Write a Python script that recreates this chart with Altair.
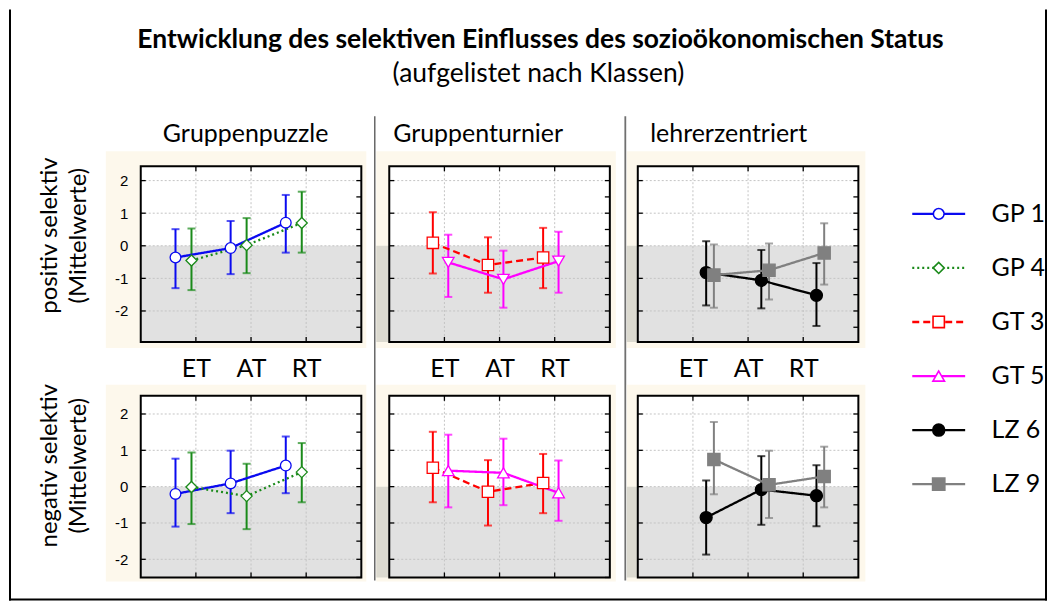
import altair as alt
import pandas as pd

# ---------------- texts ----------------
TITLE = "Entwicklung des selektiven Einflusses des sozioökonomischen Status"
SUBTITLE = "(aufgelistet nach Klassen)"
groups = ["Gruppenpuzzle", "Gruppenturnier", "lehrerzentriert"]
row_labels = [["positiv selektiv", "(Mittelwerte)"], ["negativ selektiv", "(Mittelwerte)"]]
rows = ["positiv", "negativ"]

# ---------------- categories ----------------
stages = ["ET", "AT", "RT"]
series = ["GP 1", "GP 4", "GT 3", "GT 5", "LZ 6", "LZ 9"]
group_series = [["GP 1", "GP 4"], ["GT 3", "GT 5"], ["LZ 6", "LZ 9"]]
y_ticks = [-2, -1, 0, 1, 2]
y_minor = [-2.5, -2, -1.5, -1, -0.5, 0, 0.5, 1, 1.5, 2]
x_ticks = [1, 2, 3]

# ---------------- values: positiv selektiv ----------------
pos_mean = {"GP 1": [-0.36, -0.07, 0.71], "GP 4": [-0.45, 0.02, 0.70],
            "GT 3": [0.09, -0.59, -0.36], "GT 5": [-0.51, -1.03, -0.47],
            "LZ 6": [-0.82, -1.06, -1.52], "LZ 9": [-0.90, -0.75, -0.22]}
pos_lo = {"GP 1": [-1.30, -0.87, -0.21], "GP 4": [-1.36, -0.84, -0.21],
          "GT 3": [-0.85, -1.44, -1.30], "GT 5": [-1.57, -1.90, -1.44],
          "LZ 6": [-1.83, -1.92, -2.46], "LZ 9": [-1.90, -1.65, -1.19]}
pos_hi = {"GP 1": [0.51, 0.76, 1.56], "GP 4": [0.53, 0.85, 1.66],
          "GT 3": [1.03, 0.26, 0.55], "GT 5": [0.34, -0.15, 0.43],
          "LZ 6": [0.14, -0.13, -0.53], "LZ 9": [0.04, 0.07, 0.69]}

# ---------------- values: negativ selektiv ----------------
neg_mean = {"GP 1": [-0.20, 0.09, 0.58], "GP 4": [-0.01, -0.26, 0.40],
            "GT 3": [0.52, -0.14, 0.10], "GT 5": [0.44, 0.38, -0.17],
            "LZ 6": [-0.85, -0.08, -0.25], "LZ 9": [0.75, 0.05, 0.28]}
neg_lo = {"GP 1": [-1.10, -0.73, -0.18], "GP 4": [-1.03, -1.17, -0.43],
          "GT 3": [-0.43, -1.07, -0.73], "GT 5": [-0.57, -0.51, -0.94],
          "LZ 6": [-1.87, -1.05, -1.09], "LZ 9": [-0.21, -0.86, -0.57]}
neg_hi = {"GP 1": [0.77, 0.99, 1.38], "GP 4": [0.94, 0.63, 1.20],
          "GT 3": [1.51, 0.73, 0.90], "GT 5": [1.43, 1.32, 0.72],
          "LZ 6": [0.17, 0.84, 0.59], "LZ 9": [1.78, 0.99, 1.10]}

# ---------------- styles ----------------
dodge = {"GP 1": -0.37, "GP 4": -0.08, "GT 3": -0.21, "GT 5": 0.07, "LZ 6": 0.24, "LZ 9": 0.38}
colors = ["#0a0af0", "#1a8a1a", "#ff0000", "#ff00ff", "#000000", "#808080"]
fills = ["white", "white", "white", "white", "#000000", "#808080"]
dashes = [[1, 0], [2, 3], [7, 4], [1, 0], [1, 0], [1, 0]]
sizes = [115, 150, 85, 110, 110, 80]
shapes_top = {"GP 1": "circle", "GP 4": "diamond", "GT 3": "square", "GT 5": "triangle-down",
              "LZ 6": "circle", "LZ 9": "square"}
shapes_bottom = dict(shapes_top, **{"GT 5": "triangle-up"})

FONT = "Lato"
NUMFONT = "Liberation Sans"
BEIGE = "#fdf8ec"
BAND = "#e1e1e1"
BAND_OUT = "#dcdad0"
GRID = "#c4c4c4"

W = 221
H_TOP, H_BOT = 176, 182
YDOM = {"positiv": [-2.95, 2.44], "negativ": [-2.5, 2.5]}
HEIGHTS = {"positiv": H_TOP, "negativ": H_BOT}

# ---------------- long table ----------------
recs = []
for r, (mm, ll, hh) in zip(rows, [(pos_mean, pos_lo, pos_hi), (neg_mean, neg_lo, neg_hi)]):
    shp = shapes_top if r == "positiv" else shapes_bottom
    for s in series:
        for i, st in enumerate(stages):
            recs.append(dict(row=r, series=s, stage=st, x=i + 1 + dodge[s],
                             mean=mm[s][i], lo=ll[s][i], hi=hh[s][i], shape=shp[s]))
df = pd.DataFrame(recs)

COLOR = alt.Color("series:N", scale=alt.Scale(domain=series, range=colors), legend=None)
STROKE = alt.Stroke("series:N", scale=alt.Scale(domain=series, range=colors), legend=None)
FILL = alt.Fill("series:N", scale=alt.Scale(domain=series, range=fills), legend=None)
DASH = alt.StrokeDash("series:N", scale=alt.Scale(domain=series, range=dashes), legend=None)
SIZE = alt.Size("series:N", scale=alt.Scale(domain=series, range=sizes), legend=None)

label_expr = " : ".join(f"datum.value == {i + 1} ? '{s}'" for i, s in enumerate(stages[:-1])) + f" : '{stages[-1]}'"


def one(**kw):
    return pd.DataFrame({k: [v] for k, v in kw.items()})


def text(t, x, y, size, weight="normal", angle=0, align="center", baseline="alphabetic"):
    return alt.Chart(one(t=t)).mark_text(
        align=align, baseline=baseline, fontSize=size, fontWeight=weight, angle=angle,
        font=FONT, color="black").encode(x=alt.value(x), y=alt.value(y), text="t:N")


def box(x1, x2, y1, y2, color, opacity=1):
    return alt.Chart(one(a=0)).mark_rect(color=color, opacity=opacity).encode(
        x=alt.value(x1), x2=alt.value(x2), y=alt.value(y1), y2=alt.value(y2))


def vline(x, y1, y2, color="black", width=1.0):
    return alt.Chart(one(a=0)).mark_rule(color=color, strokeWidth=width).encode(
        x=alt.value(x), y=alt.value(y1), y2=alt.value(y2))


def hline(y, x1, x2, color="black", width=1.0):
    return alt.Chart(one(a=0)).mark_rule(color=color, strokeWidth=width).encode(
        y=alt.value(y), x=alt.value(x1), x2=alt.value(x2))


def panel(ri, gi, beige, extra):
    r = rows[ri]
    H = HEIGHTS[r]
    d = df[(df.row == r) & (df.series.isin(group_series[gi]))]
    xsc = alt.Scale(domain=[0, 4], nice=False, zero=False)
    ysc = alt.Scale(domain=YDOM[r], nice=False, zero=False)
    if ri == 0:
        xax = alt.Axis(values=x_ticks, labelExpr=label_expr, title=None, domain=False, ticks=False,
                       grid=False, labelFont=FONT, labelFontSize=25, labelColor="black",
                       labelPadding=15, zindex=1)
    else:
        xax = None
    if gi == 0:
        yax = alt.Axis(values=y_ticks, labelExpr="datum.value + ''", title=None, domain=False,
                       ticks=False, grid=False, labelFont=NUMFONT, labelFontSize=15,
                       labelColor="black", labelPadding=13, zindex=1)
    else:
        yax = None

    def X(f):
        return alt.X(f, type="quantitative", scale=xsc, axis=xax, title=None)

    def Y(f):
        return alt.Y(f, type="quantitative", scale=ysc, axis=yax, title=None)

    layers = []
    bx1, bx2, by1, by2 = beige
    layers.append(box(bx1, bx2, by1, by2, BEIGE))
    layers.append(box(0, W, 0, H, "white"))
    band = alt.Chart(one(y0=0, y1=YDOM[r][0])).mark_rect(color=BAND).encode(
        x=alt.value(0), x2=alt.value(W), y=Y("y0"), y2="y1")
    layers.append(band)
    if gi > 0:
        layers.append(alt.Chart(one(y0=0, y1=YDOM[r][0])).mark_rect(color=BAND_OUT).encode(
            x=alt.value(bx1), x2=alt.value(0), y=Y("y0"), y2="y1"))
    gx = pd.DataFrame({"gx": x_ticks})
    gy = pd.DataFrame({"gy": y_ticks})
    gm = pd.DataFrame({"gm": [v for v in y_minor if YDOM[r][0] <= v <= YDOM[r][1]]})
    layers.append(alt.Chart(gx).mark_rule(color=GRID, strokeDash=[2, 2], strokeWidth=1).encode(
        x=X("gx"), y=alt.value(0), y2=alt.value(H)))
    layers.append(alt.Chart(gy).mark_rule(color=GRID, strokeDash=[2, 2], strokeWidth=1).encode(
        y=Y("gy"), x=alt.value(0), x2=alt.value(W)))
    # inner frame ticks
    layers.append(alt.Chart(gy).mark_rule(color="black", strokeWidth=1.3).encode(
        y=Y("gy"), x=alt.value(0), x2=alt.value(5)))
    layers.append(alt.Chart(gm).mark_rule(color="black", strokeWidth=1.3).encode(
        y=Y("gm"), x=alt.value(W - 5), x2=alt.value(W)))
    layers.append(alt.Chart(gx).mark_rule(color="black", strokeWidth=1.3).encode(
        x=X("gx"), y=alt.value(0), y2=alt.value(5)))
    layers.append(alt.Chart(gx).mark_rule(color="black", strokeWidth=1.3).encode(
        x=X("gx"), y=alt.value(H - 5), y2=alt.value(H)))

    base = alt.Chart(d)
    layers.append(base.mark_rule(strokeWidth=2).encode(x=X("x"), y=Y("lo"), y2="hi", color=COLOR))
    layers.append(base.mark_tick(orient="horizontal", size=8, thickness=2).encode(
        x=X("x"), y=Y("lo"), color=COLOR))
    layers.append(base.mark_tick(orient="horizontal", size=8, thickness=2).encode(
        x=X("x"), y=Y("hi"), color=COLOR))
    layers.append(base.mark_line(strokeWidth=2.3).encode(
        x=X("x"), y=Y("mean"), color=COLOR, strokeDash=DASH, detail="series:N"))
    layers.append(base.mark_point(strokeWidth=1.3, opacity=1).encode(
        x=X("x"), y=Y("mean"), shape=alt.Shape("shape:N", scale=None),
        fill=FILL, stroke=STROKE, size=SIZE))
    # frame
    layers.append(alt.Chart(one(a=0)).mark_rect(fillOpacity=0, stroke="black", strokeWidth=2).encode(
        x=alt.value(0), x2=alt.value(W), y=alt.value(0), y2=alt.value(H)))
    layers.extend(extra)
    return alt.layer(*layers).properties(width=W, height=H)


# panel origins on the page (for annotation offsets)
ORIGIN_X = [140, 389, 638, 887]
ORIGIN_Y = [165, 395]
header_cx = [245, 478, 729]
HEADER_BASE = 141

extra11 = [
    # invisible anchor fixing the page frame, plus outer border
    box(-132, 908, -157, 435, "white", opacity=0),
    vline(-131, -157, 435, width=2),
    vline(907, -157, 435, width=2),
    hline(434, -132, 908, width=2),
    text(TITLE, 540.5 - ORIGIN_X[0], 47 - ORIGIN_Y[0], 26.5, weight="bold"),
    text(SUBTITLE, 538.5 - ORIGIN_X[0], 80.5 - ORIGIN_Y[0], 26.5),
    text(groups[0], header_cx[0] - ORIGIN_X[0], HEADER_BASE - ORIGIN_Y[0], 25),
    text(row_labels[0][0], 49 - ORIGIN_X[0], 234.5 - ORIGIN_Y[0], 24, angle=270, baseline="middle"),
    text(row_labels[0][1], 78 - ORIGIN_X[0], 234.5 - ORIGIN_Y[0], 24, angle=270, baseline="middle"),
]
extra12 = [
    vline(374.5 - ORIGIN_X[1], 115 - ORIGIN_Y[0], 580 - ORIGIN_Y[0], color="#505050", width=1.3),
    text(groups[1], header_cx[1] - ORIGIN_X[1], HEADER_BASE - ORIGIN_Y[0], 25),
]
extra13 = [
    vline(625.5 - ORIGIN_X[2], 115 - ORIGIN_Y[0], 580 - ORIGIN_Y[0], color="#707070", width=1.8),
    text(groups[2], header_cx[2] - ORIGIN_X[2], HEADER_BASE - ORIGIN_Y[0], 25),
]
extra21 = [
    text(row_labels[1][0], 49 - ORIGIN_X[0], 465 - ORIGIN_Y[1], 24, angle=270, baseline="middle"),
    text(row_labels[1][1], 78 - ORIGIN_X[0], 465 - ORIGIN_Y[1], 24, angle=270, baseline="middle"),
]

p11 = panel(0, 0, (-35, 226, -15, 182), extra11)
p12 = panel(0, 1, (-13, 227, -15, 182), extra12)
p13 = panel(0, 2, (-11, 228, -15, 182), extra13)
p21 = panel(1, 0, (-35, 226, -11, 186), extra21)
p22 = panel(1, 1, (-13, 227, -11, 186), [])
p23 = panel(1, 2, (-11, 228, -11, 186), [])

# ---------------- legend (placed in 4th column, first row) ----------------
leg_df = pd.DataFrame({"series": series, "shape": [shapes_bottom[s] for s in series]})
LY = alt.Y("series:N", sort=series,
           scale=alt.Scale(type="point", range=[212.7 - ORIGIN_Y[0], 483.5 - ORIGIN_Y[0]], padding=0),
           axis=None)
LX0 = ORIGIN_X[3]
leg_line = alt.Chart(leg_df).mark_rule(strokeWidth=2.3).encode(
    x=alt.value(913 - LX0), x2=alt.value(966 - LX0), y=LY, color=COLOR, strokeDash=DASH)
leg_pt = alt.Chart(leg_df).mark_point(strokeWidth=1.6, opacity=1).encode(
    x=alt.value(939.5 - LX0), y=LY, shape=alt.Shape("shape:N", scale=None), fill=FILL, stroke=STROKE,
    size=SIZE)
leg_txt = alt.Chart(leg_df).mark_text(align="left", baseline="middle", font=FONT, fontSize=25,
                                      color="black").encode(x=alt.value(992.5 - LX0), y=LY, text="series:N")
legend = alt.layer(leg_line, leg_pt, leg_txt).properties(width=100, height=H_TOP)

chart = alt.concat(p11, p12, p13, legend, p21, p22, p23, columns=4,
                   spacing={"row": 54, "column": 28}, bounds="flush", align="each").properties(
    padding=0, background="white").configure_view(stroke=None)

chart.save("out.html", embed_options={"renderer": "svg", "actions": False})
